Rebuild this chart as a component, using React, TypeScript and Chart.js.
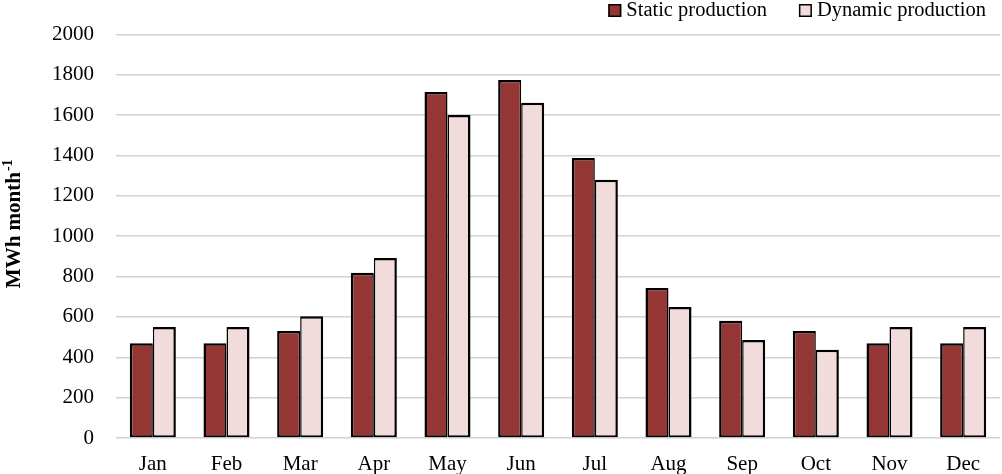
import React, { useEffect, useRef } from "react";
import { Chart, registerables } from "chart.js";

Chart.register(...registerables);

const months = ["Jan", "Feb", "Mar", "Apr", "May", "Jun", "Jul", "Aug", "Sep", "Oct", "Nov", "Dec"];
const staticProduction = [470, 470, 531, 819, 1715, 1775, 1388, 744, 581, 531, 470, 470];
const dynamicProduction = [550, 550, 604, 892, 1601, 1662, 1280, 649, 486, 437, 550, 550];
const seriesNames = ["Static production", "Dynamic production"];
const seriesColors = ["#943634", "#f2dcdb"];
const yTitleMain = "MWh month";
const yTitleSup = "-1";

const FONT = "'Liberation Serif', 'Times New Roman', serif";

const customLegendAndTitle = {
  id: "customLegendAndTitle",
  afterDraw(chart: any) {
    const ctx = chart.ctx as CanvasRenderingContext2D;
    ctx.save();
    // legend
    ctx.font = `20.5px ${FONT}`;
    ctx.textBaseline = "middle";
    ctx.textAlign = "left";
    let x = chart.width - 16;
    const ds = chart.data.datasets;
    for (let i = ds.length - 1; i >= 0; i--) {
      const label = ds[i].label as string;
      const w = ctx.measureText(label).width;
      const tx = x - w;
      ctx.fillStyle = "#000";
      ctx.fillText(label, tx, 11);
      const bx = tx - 5 - 13;
      ctx.fillStyle = ds[i].backgroundColor as string;
      ctx.fillRect(bx, 4, 13, 13);
      ctx.strokeStyle = "#000";
      ctx.lineWidth = 1.5;
      ctx.strokeRect(bx + 0.75, 4.75, 11.5, 11.5);
      x = bx - 32;
    }
    // y title
    const area = chart.chartArea;
    ctx.translate(20, (area.top + area.bottom) / 2 - 12);
    ctx.rotate(-Math.PI / 2);
    ctx.fillStyle = "#000";
    ctx.textBaseline = "alphabetic";
    ctx.font = `bold 21px ${FONT}`;
    const mw = ctx.measureText(yTitleMain).width;
    ctx.font = `bold 14px ${FONT}`;
    const sw = ctx.measureText(yTitleSup).width;
    const start = -(mw + sw) / 2;
    ctx.font = `bold 21px ${FONT}`;
    ctx.fillText(yTitleMain, start, 0);
    ctx.font = `bold 14px ${FONT}`;
    ctx.fillText(yTitleSup, start + mw + 1, -8);
    ctx.restore();
  },
};

export default function App() {
  const ref = useRef<HTMLCanvasElement | null>(null);
  useEffect(() => {
    if (!ref.current) return;
    const chart = new Chart(ref.current, {
      type: "bar",
      data: {
        labels: months,
        datasets: [
          {
            label: seriesNames[0],
            data: staticProduction,
            backgroundColor: seriesColors[0],
            borderColor: "#000000",
            borderWidth: { top: 2.5, left: 2.5, right: 1.5, bottom: 2 },
            borderSkipped: false,
            categoryPercentage: 0.625,
            barPercentage: 1.0,
          },
          {
            label: seriesNames[1],
            data: dynamicProduction,
            backgroundColor: seriesColors[1],
            borderColor: "#000000",
            borderWidth: { top: 2.5, left: 1.5, right: 2.5, bottom: 2 },
            borderSkipped: false,
            categoryPercentage: 0.625,
            barPercentage: 1.0,
          },
        ],
      },
      options: {
        animation: false,
        responsive: false,
        maintainAspectRatio: false,
        layout: { padding: { left: 0, right: 2, top: 34, bottom: 0 } },
        plugins: {
          tooltip: { enabled: false },
          legend: { display: false },
        },
        scales: {
          x: {
            afterFit: (scale: any) => {
              scale.height = 36;
            },
            grid: { display: false, drawTicks: false },
            border: { display: false },
            ticks: { font: { family: FONT, size: 21 }, color: "#000", padding: 14 },
          },
          y: {
            min: 0,
            max: 2000,
            afterFit: (scale: any) => {
              scale.width = 116;
            },
            grid: { color: "#d2d2d2", lineWidth: 1.6, drawTicks: false },
            border: { display: false },
            ticks: {
              stepSize: 200,
              font: { family: FONT, size: 21 },
              color: "#000",
              padding: 22,
              callback: (v: any) => String(v),
            },
          },
        },
      },
      plugins: [customLegendAndTitle],
    });
    return () => chart.destroy();
  }, []);
  return (
    <div style={{ position: "fixed", left: 0, top: 0, width: 1002, height: 474, background: "#fff" }}>
      <canvas ref={ref} width={1002} height={474} style={{ width: 1002, height: 474 }} />
    </div>
  );
}
